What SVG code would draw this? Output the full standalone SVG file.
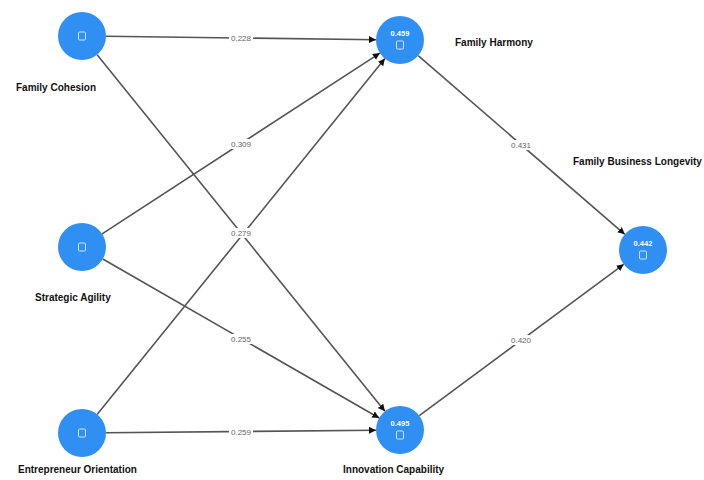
<svg xmlns="http://www.w3.org/2000/svg" width="704" height="480" viewBox="0 0 704 480">
<defs>
<marker id="arr" markerWidth="8" markerHeight="8" refX="7" refY="3.5" orient="auto" markerUnits="userSpaceOnUse">
<path d="M0,0 L7,3.5 L0,7 z" fill="#111"/>
</marker>
<style>
.edge{stroke:#555;stroke-width:1.6;fill:none;marker-end:url(#arr)}
.node{fill:#2f8ff2}
.lbl{font-family:"Liberation Sans",Arial,sans-serif;font-size:10px;font-weight:bold;fill:#111}
.val{font-family:"Liberation Sans",Arial,sans-serif;font-size:7.5px;font-weight:bold;fill:#fff;text-anchor:middle}
.ico{fill:none;stroke:#cfe3ff;stroke-width:1}
.el{font-family:"Liberation Sans",Arial,sans-serif;font-size:8px;fill:#666;text-anchor:middle}
.elbg{fill:#fff}
</style>
</defs>
<rect width="704" height="480" fill="#fff"/>
<g id="connectors">
<line class="edge" x1="106" y1="36.3" x2="376" y2="39.7"/>
<line class="edge" x1="97.1" y1="54.7" x2="384.9" y2="411.3"/>
<line class="edge" x1="102.1" y1="233.9" x2="379.9" y2="53.1"/>
<line class="edge" x1="102.8" y1="259" x2="379.2" y2="418"/>
<line class="edge" x1="97.1" y1="414.4" x2="384.9" y2="58.6"/>
<line class="edge" x1="106" y1="432.8" x2="376" y2="430.2"/>
<line class="edge" x1="418.2" y1="55.7" x2="624.8" y2="234.3"/>
<line class="edge" x1="419.3" y1="415.7" x2="623.7" y2="264.3"/>
<g id="edge-labels">
<rect class="elbg" x="229" y="33" width="24" height="10"/><text class="el" x="241" y="41">0.228</text>
<rect class="elbg" x="229" y="139" width="24" height="10"/><text class="el" x="241" y="147">0.309</text>
<rect class="elbg" x="229" y="228" width="24" height="10"/><text class="el" x="241" y="236">0.279</text>
<rect class="elbg" x="229" y="334" width="24" height="10"/><text class="el" x="241" y="342">0.255</text>
<rect class="elbg" x="229" y="427" width="24" height="10"/><text class="el" x="241" y="435">0.259</text>
<rect class="elbg" x="509" y="140" width="24" height="10"/><text class="el" x="521" y="148">0.431</text>
<rect class="elbg" x="509" y="335" width="24" height="10"/><text class="el" x="521" y="343">0.420</text>
</g>
</g>
<g id="family-cohesion">
<circle class="node" cx="82" cy="36" r="24"/>
<rect class="ico" x="78.5" y="32" width="7" height="8" rx="1"/>
<text class="lbl" x="16" y="91">Family Cohesion</text>
</g>
<g id="strategic-agility">
<circle class="node" cx="82" cy="247" r="24"/>
<rect class="ico" x="78.5" y="243" width="7" height="8" rx="1"/>
<text class="lbl" x="35" y="301">Strategic Agility</text>
</g>
<g id="entrepreneur-orientation">
<circle class="node" cx="82" cy="433" r="24"/>
<rect class="ico" x="78.5" y="429" width="7" height="8" rx="1"/>
<text class="lbl" x="18" y="473">Entrepreneur Orientation</text>
</g>
<g id="family-harmony">
<circle class="node" cx="400" cy="40" r="24"/>
<text class="val" x="400" y="36">0.459</text>
<rect class="ico" x="396.5" y="41" width="7" height="8" rx="1"/>
<text class="lbl" x="455" y="46">Family Harmony</text>
</g>
<g id="innovation-capability">
<circle class="node" cx="400" cy="430" r="24"/>
<text class="val" x="400" y="426">0.495</text>
<rect class="ico" x="396.5" y="431" width="7" height="8" rx="1"/>
<text class="lbl" x="343" y="473">Innovation Capability</text>
</g>
<g id="family-business-longevity">
<circle class="node" cx="643" cy="250" r="24"/>
<text class="val" x="643" y="246">0.442</text>
<rect class="ico" x="639.5" y="251" width="7" height="8" rx="1"/>
<text class="lbl" x="573" y="165">Family Business Longevity</text>
</g>
</svg>
